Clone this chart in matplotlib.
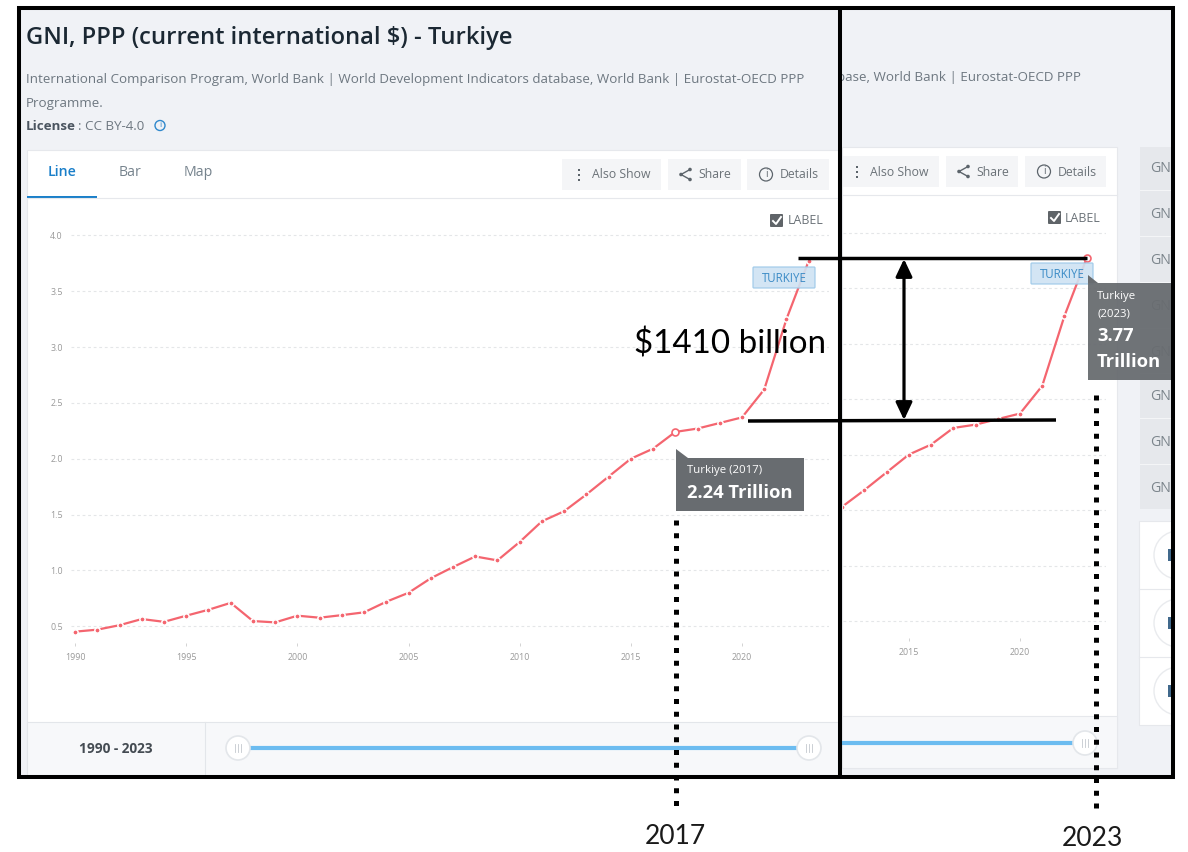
import matplotlib
matplotlib.use('Agg')
import matplotlib.pyplot as plt
from matplotlib.patches import Rectangle, Circle, Polygon, FancyBboxPatch

W, H = 1188, 852

years = list(range(1990, 2024))
gni = [0.452, 0.47, 0.51, 0.565, 0.54, 0.595, 0.648, 0.71, 0.547, 0.535,
       0.595, 0.577, 0.60, 0.625, 0.72, 0.80, 0.93, 1.03, 1.125, 1.09,
       1.255, 1.44, 1.53, 1.68, 1.84, 2.00, 2.09, 2.24, 2.27, 2.32,
       2.37, 2.62, 3.25, 3.77]
y_ticks = [0.5, 1.0, 1.5, 2.0, 2.5, 3.0, 3.5, 4.0]
x_ticks = [1990, 1995, 2000, 2005, 2010, 2015, 2020]
side_rows = [169, 215, 261, 307, 352, 397, 443, 489]

LINE = '#f4656f'
BG = '#f0f2f6'
BTN = '#f4f5f7'
GREY = '#6d7780'
FONT = 'Open Sans'

plt.rcParams['font.family'] = FONT
fig = plt.figure(figsize=(W / 100, H / 100), dpi=100)


def pixel_axes(z):
    ax = fig.add_axes([0, 0, 1, 1], zorder=z)
    ax.set_xlim(0, W)
    ax.set_ylim(H, 0)
    ax.axis('off')
    ax.patch.set_alpha(0)
    return ax


page = pixel_axes(0)
top = pixel_axes(2)


def box(ax, x0, y0, x1, y1, fc, ec='none', lw=0.8, alpha=None):
    ax.add_patch(Rectangle((x0, y0), x1 - x0, y1 - y0, fc=fc, ec=ec, lw=lw, alpha=alpha))


def chart_axes(left, right, y_top, y_bot, x2020, y05, y40, show_y):
    # axes placed in pixels, limits worked out from where ticks sit
    ax = fig.add_axes([left / W, 1 - y_bot / H, (right - left) / W, (y_bot - y_top) / H], zorder=1)
    ax.patch.set_alpha(0)
    per_year = 22.23
    per_unit = (y05 - y40) / 3.5
    ax.plot(years, gni, color=LINE, lw=1.6, marker='o', ms=3.8, mfc=LINE, mec='white', mew=1.1, zorder=3)
    for s in ax.spines.values():
        s.set_visible(False)
    ax.set_yticks(y_ticks)
    ax.set_xticks(x_ticks)
    ax.set_xticklabels([str(v) for v in x_ticks])
    # limits after the ticks, set_xticks widens them otherwise
    ax.set_xlim(2020 + (left - x2020) / per_year, 2020 + (right - x2020) / per_year)
    ax.set_ylim(0.5 - (y_bot - y05) / per_unit, 0.5 + (y05 - y_top) / per_unit)
    ax.grid(axis='y', color='#e4e6e8', ls=(0, (2.5, 2.5)), lw=0.8)
    ax.tick_params(axis='x', length=2.5, width=0.6, color='#cccccc', labelsize=6.4, labelcolor='#9a9a9a', pad=5)
    ax.tick_params(axis='y', length=0, labelsize=6.4, labelcolor='#9a9a9a', pad=6, labelleft=show_y)
    return ax


# page background and the two screenshots
box(page, 18, 8, 1173, 777, BG)
box(page, 842, 147, 1117, 768, 'white', '#e6e8ec')
box(page, 842, 716, 1117, 768, '#f7f8fa', '#e6e8ec')
box(page, 27, 150, 838, 775, 'white', '#e6e8ec')
box(page, 27, 722, 838, 775, '#f7f8fa', '#e3e6ea')
page.plot([205, 205], [722, 775], color='#e3e6ea', lw=0.8)
page.plot([27, 838], [198, 198], color='#e6e8ec', lw=0.8)
page.plot([842, 1117], [195, 195], color='#e6e8ec', lw=0.8)
box(page, 27, 196, 97, 198, '#1a7fc9')

# side column on the right
box(page, 1140, 147, 1171, 509, '#e6e8ec')
for y in side_rows:
    page.text(1150, y, 'GN', color='#7b848b', fontsize=10.2, va='center')
    if y != side_rows[-1]:
        page.plot([1140, 1171], [y + 21, y + 21], color='#f4f5f7', lw=0.8)
box(page, 1139, 521, 1171, 725, 'white', '#e6e8ec')
for y in [589, 657]:
    page.plot([1139, 1171], [y, y], color='#e6e8ec', lw=0.8)
for y in [555, 623, 691]:
    arc = Circle((1178, y), 24, fc='none', ec='#e9ebee', lw=1)
    page.add_patch(arc)
    arc.set_clip_path(Rectangle((1139, 521), 32, 204, transform=page.transData))
    box(page, 1168, y - 6, 1171, y + 6, '#41698c')

# header text
page.text(26, 38.5, 'GNI, PPP (current international $) - Turkiye', color='#1b2833',
          fontsize=17.1, fontweight='semibold', va='center')
page.text(26, 79.5, 'International Comparison Program, World Bank | World Development Indicators database, World Bank | Eurostat-OECD PPP',
          color=GREY, fontsize=9.6, va='center')
page.text(26, 103.5, 'Programme.', color=GREY, fontsize=9.6, va='center')
page.text(26, 127, 'License', color='#4b5560', fontsize=9.6, fontweight='bold', va='center')
page.text(78, 127, ': CC BY-4.0', color=GREY, fontsize=9.6, va='center')
page.add_patch(Circle((160, 125.5), 5, fc='none', ec='#2f88cc', lw=1))
page.text(160, 125.5, 'i', color='#2f88cc', fontsize=6, ha='center', va='center')
page.text(1081, 77.5, 'base, World Bank | Eurostat-OECD PPP', color=GREY, fontsize=9.6, va='center', ha='right')

# tabs
page.text(62, 172.5, 'Line', color='#1a7fc9', fontsize=10.2, fontweight='semibold', ha='center', va='center')
page.text(130, 172.5, 'Bar', color='#76838d', fontsize=10.2, ha='center', va='center')
page.text(198, 172.5, 'Map', color='#76838d', fontsize=10.2, ha='center', va='center')


def dots_icon(x, y):
    for d in (-5, 0, 5):
        box(page, x - 1, y + d - 1, x + 1, y + d + 1, '#5c646b')


def share_icon(x, y):
    page.plot([x + 5, x - 4, x + 5], [y - 5, y, y + 5], color='#5c646b', lw=1)
    for px, py in [(x + 5, y - 5), (x - 4, y), (x + 5, y + 5)]:
        page.add_patch(Circle((px, py), 1.8, fc='#5c646b', ec='none'))


def info_icon(x, y):
    page.add_patch(Circle((x, y), 6.5, fc='none', ec='#5c646b', lw=0.9))
    page.text(x, y, 'i', color='#5c646b', fontsize=7, ha='center', va='center')


def buttons(y0, y1, also, share, details):
    mid = (y0 + y1) / 2
    box(page, also[0], y0, also[1], y1, BTN)
    box(page, share[0], y0, share[1], y1, BTN)
    box(page, details[0], y0, details[1], y1, BTN)
    page.text(also[1] - 39.5, mid + 0.5, 'Also Show', color='#6b7278', fontsize=8.8, ha='center', va='center')
    page.text(share[0] + 46.5, mid + 0.5, 'Share', color='#6b7278', fontsize=8.8, ha='center', va='center')
    page.text(details[0] + 52, mid + 0.5, 'Details', color='#6b7278', fontsize=8.8, ha='center', va='center')
    dots_icon(also[1] - 82, mid)
    share_icon(share[0] + 17, mid)
    info_icon(details[0] + 19, mid)


buttons(159, 190, (562, 661), (668, 741), (747, 829))
buttons(156, 187, (843, 939), (946, 1018), (1025, 1106))


def checkbox(x, y):
    page.add_patch(FancyBboxPatch((x + 1, y + 1), 11, 11, boxstyle='round,pad=1', fc='#5f6468', ec='none'))
    page.plot([x + 3, x + 6, x + 11], [y + 7, y + 10, y + 3], color='white', lw=1.4)


checkbox(770, 214)
page.text(788, 221, 'LABEL', color='#6b7278', fontsize=8.9, va='center')
checkbox(1048, 211)
page.text(1065, 218, 'LABEL', color='#6b7278', fontsize=8.9, va='center')


def slider(x0, x1, y):
    page.plot([x0, x1], [y, y], color='#6cbcf0', lw=3, solid_capstyle='butt')


def handle(ax, x, y):
    ax.add_patch(Circle((x, y), 12, fc='white', ec='#e3e6ea', lw=1.2, zorder=2))
    for d in (-3, 0, 3):
        ax.plot([x + d, x + d], [y - 4, y + 4], color='#c4c9ce', lw=0.6, zorder=3)


page.text(116, 749, '1990 - 2023', color='#444b52', fontsize=9.8, fontweight='bold', ha='center', va='center')
slider(250, 797, 748)
handle(page, 238, 748)
handle(page, 809, 748)
slider(842, 1073, 743)
handle(page, 1085, 743)

# the two charts
left_ax = chart_axes(71, 829, 225, 643, 742, 626.3, 235.3, True)
right_ax = chart_axes(843, 1106, 222, 638, 1020, 621, 232.7, False)
left_ax.plot(2017, gni[years.index(2017)], 'o', ms=5, mfc='white', mec=LINE, mew=1.2, zorder=4)
right_ax.plot(2023, gni[years.index(2023)], 'o', ms=5, mfc='white', mec=LINE, mew=1.2, zorder=4, clip_on=False)

# country labels
for x0, y0 in [(753, 267), (1031, 263)]:
    top.add_patch(FancyBboxPatch((x0 + 1, y0 + 1), 60, 19, boxstyle='round,pad=1', fc='#cfe3f3', ec='#9cc8e8',
                                 lw=0.9, alpha=0.9))
    top.text(x0 + 31, y0 + 11, 'TURKIYE', color='#3b8bc6', fontsize=8.3, ha='center', va='center')

# tooltips
TIP = '#686c70'
box(top, 676, 458, 804, 511, TIP)
top.add_patch(Polygon([(676, 449), (676, 458), (688, 458)], fc=TIP, ec='none'))
top.text(687, 471, 'Turkiye (2017)', color='white', fontsize=8.2, va='center')
top.text(687, 493.5, '2.24 Trillion', color='white', fontsize=13.2, fontweight='bold', va='center')

box(top, 1088, 283, 1171, 380, TIP, alpha=0.95)
top.add_patch(Polygon([(1088, 275), (1088, 283), (1098, 283)], fc=TIP, ec='none'))
top.text(1097, 297, 'Turkiye', color='white', fontsize=8.2, va='center')
top.text(1097, 314, '(2023)', color='white', fontsize=8.2, va='center')
top.text(1097, 336, '3.77', color='white', fontsize=13.2, fontweight='bold', va='center')
top.text(1097, 362, 'Trillion', color='white', fontsize=13.2, fontweight='bold', va='center')

# frames drawn over the screenshots
top.add_patch(Rectangle((19, 8), 1154, 769, fc='none', ec='black', lw=2.9))
top.plot([840, 840], [8, 777], color='black', lw=2.9, solid_capstyle='butt')

# annotation on top
top.plot([798, 1087], [258, 258], color='black', lw=2.5, solid_capstyle='butt')
top.plot([748, 1056], [421, 420], color='black', lw=2.5, solid_capstyle='butt')
top.annotate('', xy=(904, 259), xytext=(904, 420),
             arrowprops=dict(arrowstyle='<|-|>,head_length=0.7,head_width=0.33', color='black', lw=2.3,
                             shrinkA=0, shrinkB=0, mutation_scale=15))
top.text(730.5, 344, '$1410 billion', color='black', fontsize=23.9, family='Lato', ha='center', va='center')
for x, y0 in [(676, 520), (1096, 395)]:
    top.plot([x, x], [y0, 808], color='black', lw=3.6, ls=(0, (1, 1.55)), dash_capstyle='butt')
top.text(675, 836.5, '2017', color='#1a1a1a', fontsize=19, family='Lato', ha='center', va='center')
top.text(1092, 838, '2023', color='#1a1a1a', fontsize=19, family='Lato', ha='center', va='center')

fig.savefig('out.png', dpi=100)
